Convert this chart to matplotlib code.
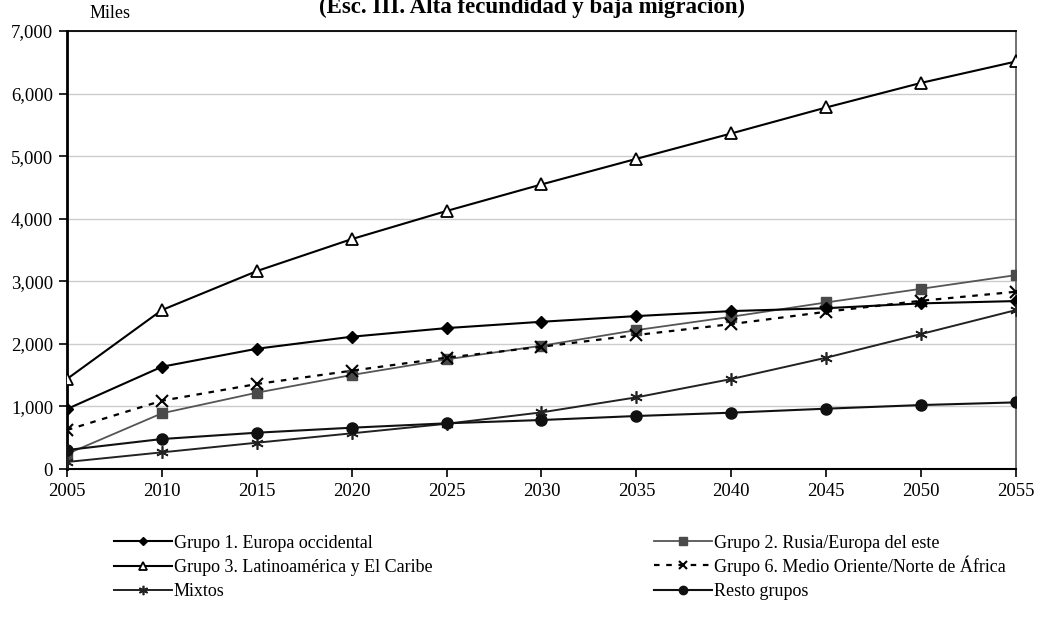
import matplotlib.pyplot as plt
from matplotlib.ticker import FuncFormatter

plt.rcParams['font.family'] = ['Liberation Serif', 'DejaVu Serif']

# Projected population by group (thousands), 2005-2055
years = [2005, 2010, 2015, 2020, 2025, 2030, 2035, 2040, 2045, 2050, 2055]
grupo1 = [958, 1634, 1922, 2114, 2252, 2353, 2444, 2524, 2570, 2647, 2684]
grupo2 = [240, 890, 1219, 1502, 1752, 1970, 2220, 2433, 2662, 2880, 3099]
grupo3 = [1438, 2540, 3163, 3674, 4124, 4548, 4957, 5363, 5778, 6171, 6513]
grupo6 = [623, 1091, 1358, 1571, 1779, 1954, 2141, 2316, 2513, 2689, 2833]
mixtos = [112, 266, 420, 570, 723, 905, 1145, 1438, 1779, 2157, 2540]
resto = [303, 479, 580, 660, 730, 783, 847, 900, 964, 1022, 1065]

fig = plt.figure(figsize=(10.38, 6.18), dpi=100)
ax = fig.add_axes([0.0645, 0.2411, 0.9143, 0.7087])

l1, = ax.plot(years, grupo1, color='black', lw=1.5, marker='D', ms=6,
              mfc='black', mec='black', label='Grupo 1. Europa occidental', zorder=4)
l2, = ax.plot(years, grupo2, color='#555555', lw=1.3, marker='s', ms=7,
              mfc='#4a4a4a', mec='#4a4a4a', label='Grupo 2. Rusia/Europa del este', zorder=3)
l3, = ax.plot(years, grupo3, color='black', lw=1.5, marker='^', ms=8,
              mfc='white', mec='black', mew=1.3, label='Grupo 3. Latinoamérica y El Caribe', zorder=4)
l6, = ax.plot(years, grupo6, color='black', lw=1.6, ls=(0, (2.5, 3)), marker='x', ms=8,
              mew=1.5, mec='black', label='Grupo 6. Medio Oriente/Norte de África', zorder=4)
lm, = ax.plot(years, mixtos, color='#222222', lw=1.4, marker=(6, 2, 0), ms=9,
              mew=1.2, mec='#222222', label='Mixtos', zorder=4)
lr, = ax.plot(years, resto, color='#111111', lw=1.5, marker='o', ms=8,
              mfc='#111111', mec='#111111', label='Resto grupos', zorder=4)

ax.set_xlim(2005, 2055)
ax.set_ylim(0, 7000)
ax.set_xticks(years)
ax.set_yticks(range(0, 7001, 1000))
ax.yaxis.set_major_formatter(FuncFormatter(lambda v, p: f'{int(v):,}'))
ax.grid(axis='y', color='#cccccc', lw=1)
ax.set_axisbelow(True)
ax.tick_params(axis='both', direction='out', length=6, width=1.2, labelsize=13.5, color='black')
ax.tick_params(axis='x', pad=4)
ax.tick_params(axis='y', pad=4)

ax.spines['left'].set_linewidth(2)
ax.spines['bottom'].set_linewidth(1.5)
ax.spines['top'].set_linewidth(1.3)
ax.spines['top'].set_color('black')
ax.spines['right'].set_color('#666666')
ax.spines['right'].set_linewidth(1.3)

fig.text(90 / 1038, 1 - 14 / 618, 'Miles', fontsize=13, ha='left', va='center')
fig.text(532 / 1038, 1 - 13 / 618, '(Esc. III. Alta fecundidad y baja migración)',
         fontsize=16.5, fontweight='bold', ha='center', va='baseline')

# legend: two columns, one entry per row so both columns line up
leg_kw = dict(frameon=False, fontsize=13, handlelength=3.2, handletextpad=0.1,
              borderaxespad=0, borderpad=0)
rows = [(l1, l2), (l3, l6), (lm, lr)]
row_y = [543, 567.5, 592]
for (left, right), y in zip(rows, row_y):
    for line, x in ((left, 114), (right, 654)):
        dy = -2 if line is l6 else 0   # accented label makes the box taller
        leg = fig.legend([line], [line.get_label()], loc='center left',
                         bbox_to_anchor=(x / 1038, 1 - (y + dy) / 618), **leg_kw)
        for h in leg.legend_handles:
            h.set_markersize(h.get_markersize() * 0.75)

fig.savefig('out.png', dpi=100)
